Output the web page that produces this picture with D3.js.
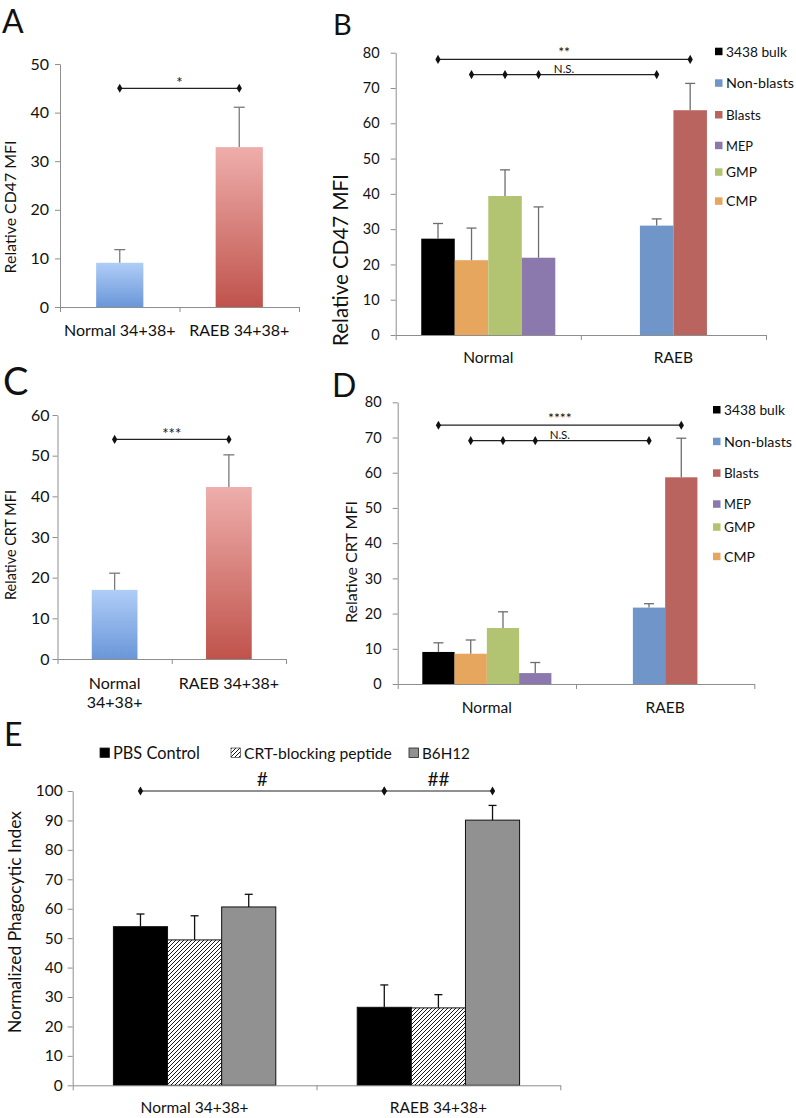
<!DOCTYPE html>
<html>
<head>
<meta charset="utf-8">
<script src="https://cdn.jsdelivr.net/npm/d3@7"></script>
<style>
  html, body { margin: 0; padding: 0; background: #fff; }
  svg { display: block; }
  text { font-family: Lato, "Open Sans", "DejaVu Sans", sans-serif; fill: #111; }
</style>
</head>
<body>
<script>
// ---------------- DATA ----------------
const simpleCats = ["Normal 34+38+", "RAEB 34+38+"];
const cd47Values = [9.1, 32.9];
const cd47Err = [2.7, 8.2];
const cd47Ticks = [0, 10, 20, 30, 40, 50];
const crtValues = [17.0, 42.3];
const crtErr = [4.1, 7.9];
const crtTicks = [0, 10, 20, 30, 40, 50, 60];
const crtCatLines = [["Normal", "34+38+"], ["RAEB 34+38+"]];

const subsetNames = ["3438 bulk", "Non-blasts", "Blasts", "MEP", "GMP", "CMP"];
const groupCats = ["Normal", "RAEB"];
const normalSubsets = ["3438 bulk", "CMP", "GMP", "MEP"];
const raebSubsets = ["Non-blasts", "Blasts"];
const cd47Normal = [27.3, 21.2, 39.4, 21.9];
const cd47NormalErr = [4.3, 9.1, 7.4, 14.4];
const cd47Raeb = [31.0, 63.7];
const cd47RaebErr = [1.9, 7.6];
const crtNormal = [9.1, 8.6, 15.9, 3.1];
const crtNormalErr = [2.6, 3.9, 4.6, 3.0];
const crtRaeb = [21.7, 58.7];
const crtRaebErr = [1.1, 11.1];
const groupTicks = [0, 10, 20, 30, 40, 50, 60, 70, 80];

const treatments = ["PBS Control", "CRT-blocking peptide", "B6H12"];
const phagoNormal = [53.9, 49.4, 60.6];
const phagoNormalErr = [4.3, 8.2, 4.3];
const phagoRaeb = [26.5, 26.3, 90.1];
const phagoRaebErr = [7.6, 4.5, 5.0];
const phagoTicks = [0, 10, 20, 30, 40, 50, 60, 70, 80, 90, 100];

// significance annotations (values in data units)
const sigA = [{ y: 45, label: "*", pts: [0, 1] }];
const sigC = [{ y: 54, label: "***", pts: [0, 1] }];
const sigB = [
  { y: 78.1, label: "**", pts: [["Normal", "3438 bulk"], ["RAEB", "Blasts"]] },
  { y: 73.8, label: "N.S.", pts: [["Normal", "CMP"], ["Normal", "GMP"], ["Normal", "MEP"], ["RAEB", "Non-blasts"]] }
];
const sigD = [
  { y: 73.5, label: "****", pts: [["Normal", "3438 bulk"], ["RAEB", "Blasts"]] },
  { y: 69.1, label: "N.S.", pts: [["Normal", "CMP"], ["Normal", "GMP"], ["Normal", "MEP"], ["RAEB", "Non-blasts"]] }
];
const sigE = [
  { y: 100, label: "#", pts: [[0, 0], [1, 0]] },
  { y: 100, label: "##", pts: [[1, 0], [1, 2]] }
];

// ---------------- STYLE ----------------
const subsetColors = {
  "3438 bulk": "#000000", "Non-blasts": "#7096c9", "Blasts": "#b9645e",
  "MEP": "#8b79ad", "GMP": "#b2c472", "CMP": "#e6a65d"
};
const gradStops = [["#b0cdf8", "#6a97d8"], ["#eeaeab", "#c0534c"]];
const axisColor = "#8e8e8e";
const FONT = "Lato, 'Open Sans', sans-serif";

const W = 796, H = 1118;
const svg = d3.select("body").append("svg").attr("width", W).attr("height", H);
svg.append("rect").attr("width", W).attr("height", H).attr("fill", "#fff");
const defs = svg.append("defs");

gradStops.forEach((s, i) => {
  const g = defs.append("linearGradient").attr("id", "grad" + i)
    .attr("x1", 0).attr("y1", 0).attr("x2", 0).attr("y2", 1);
  g.append("stop").attr("offset", "0%").attr("stop-color", s[0]);
  g.append("stop").attr("offset", "100%").attr("stop-color", s[1]);
});
const pat = defs.append("pattern").attr("id", "hatch").attr("patternUnits", "userSpaceOnUse")
  .attr("width", 4).attr("height", 4);
pat.append("rect").attr("width", 4).attr("height", 4).attr("fill", "#fff");
pat.append("path").attr("d", "M-1,1 L1,-1 M0,4 L4,0 M3,5 L5,3")
  .attr("stroke", "#000").attr("stroke-width", 0.9);

// scale a text's font size so that it spans the given length
function fit(sel, target) {
  const L = sel.node().getComputedTextLength();
  if (L > 0) sel.attr("font-size", parseFloat(sel.attr("font-size")) * target / L);
  return sel;
}

function styleAxis(g, fs) {
  g.select(".domain").attr("stroke", axisColor);
  g.selectAll(".tick line").attr("stroke", axisColor);
  g.selectAll(".tick text").attr("font-size", fs).attr("fill", "#111").style("font-family", FONT);
}

function drawAxes(cfg, x, y, nCats, ticks) {
  const xb = d3.scaleLinear().domain([0, nCats]).range([cfg.x0, cfg.x1]);
  const gx = svg.append("g").attr("transform", `translate(0,${y(0)})`)
    .call(d3.axisBottom(xb).tickValues(d3.range(nCats + 1)).tickFormat("").tickSize(5).tickSizeOuter(0));
  styleAxis(gx, 0);
  const gy = svg.append("g").attr("transform", `translate(${cfg.x0},0)`)
    .call(d3.axisLeft(y).tickValues(ticks).tickSize(5).tickSizeOuter(0).tickPadding(cfg.tickPad));
  styleAxis(gy, cfg.tickFs);
}

function errorBars(data, cx, y, color, cap) {
  data.forEach(d => {
    const xc = cx(d), top = y(d.v + d.e), base = y(d.v);
    svg.append("line").attr("x1", xc).attr("x2", xc).attr("y1", base).attr("y2", top)
      .attr("stroke", color).attr("stroke-width", 1.3);
    svg.append("line").attr("x1", xc - cap / 2).attr("x2", xc + cap / 2).attr("y1", top).attr("y2", top)
      .attr("stroke", color).attr("stroke-width", 1.3);
  });
}

function sigLines(sigs, xOf, y, fsFor, dy) {
  sigs.forEach(s => {
    const xs = s.pts.map(xOf);
    const yy = y(s.y);
    svg.append("line").attr("x1", d3.min(xs)).attr("x2", d3.max(xs)).attr("y1", yy).attr("y2", yy)
      .attr("stroke", "#222").attr("stroke-width", 1.2);
    xs.forEach(xv => {
      svg.append("path").attr("d", d3.symbol(d3.symbolDiamond, 24)())
        .attr("transform", `translate(${xv},${yy})`).attr("fill", "#111");
    });
    svg.append("text").attr("x", (d3.min(xs) + d3.max(xs)) / 2).attr("y", yy - dy)
      .attr("text-anchor", "middle").attr("font-size", fsFor(s.label)).text(s.label);
  });
}

function panelLetter(t, x, y, fs) {
  svg.append("text").attr("x", x).attr("y", y).attr("font-size", fs).text(t);
}

function yLabel(t, x, y, fs, len) {
  const s = svg.append("text").attr("transform", `translate(${x},${y}) rotate(-90)`)
    .attr("text-anchor", "middle").attr("font-size", fs).text(t);
  fit(s, len);
}

// ---------------- SIMPLE PANELS (A, C) ----------------
function drawSimple(cfg) {
  const x = d3.scaleBand().domain(simpleCats).range([cfg.x0, cfg.x1]);
  const y = d3.scaleLinear().domain([0, cfg.ticks[cfg.ticks.length - 1]]).range([cfg.y0, cfg.yTop]);
  const bw = x.bandwidth() * cfg.barFrac;
  const data = simpleCats.map((c, i) => ({ c, v: cfg.values[i], e: cfg.errs[i], i }));
  svg.selectAll(null).data(data).enter().append("rect")
    .attr("x", d => x(d.c) + (x.bandwidth() - bw) / 2).attr("width", bw)
    .attr("y", d => y(d.v)).attr("height", d => y(0) - y(d.v))
    .attr("fill", d => `url(#grad${d.i})`);
  errorBars(data, d => x(d.c) + x.bandwidth() / 2, y, "#7a7a7a", 11);
  drawAxes(cfg, x, y, simpleCats.length, cfg.ticks);
  simpleCats.forEach((c, i) => {
    cfg.catLines[i].forEach((line, j) => {
      svg.append("text").attr("x", x(c) + x.bandwidth() / 2).attr("y", cfg.catY + j * cfg.lineH)
        .attr("text-anchor", "middle").attr("font-size", cfg.catFs).text(line);
    });
  });
  sigLines(cfg.sigs, p => x(simpleCats[p]) + x.bandwidth() / 2, y, () => 15, 0);
  yLabel(cfg.ylabel, cfg.ylx, cfg.yly, 15, cfg.ylLen);
  panelLetter(cfg.letter, cfg.lx, cfg.ly, cfg.lfs);
}

drawSimple({
  x0: 60, x1: 299, y0: 307, yTop: 64, ticks: cd47Ticks, values: cd47Values, errs: cd47Err,
  barFrac: 0.395, tickPad: 6, tickFs: 16, catFs: 16, catY: 336, lineH: 18,
  catLines: simpleCats.map(c => [c]), sigs: sigA,
  ylabel: "Relative CD47 MFI", ylx: 16, yly: 207, ylLen: 133,
  letter: "A", lx: 2, ly: 33, lfs: 32
});
drawSimple({
  x0: 57.5, x1: 286, y0: 659, yTop: 415, ticks: crtTicks, values: crtValues, errs: crtErr,
  barFrac: 0.40, tickPad: 3, tickFs: 16, catFs: 16, catY: 689, lineH: 19,
  catLines: crtCatLines, sigs: sigC,
  ylabel: "Relative CRT MFI", ylx: 16, yly: 545, ylLen: 110,
  letter: "C", lx: 3, ly: 395, lfs: 38
});

// ---------------- GROUPED PANELS (B, D) ----------------
const legendLens = [61, 68, 35, 27, 31, 31];
function drawGrouped(cfg) {
  const x = d3.scaleBand().domain(groupCats).range([cfg.x0, cfg.x1]);
  const y = d3.scaleLinear().domain([0, groupTicks[groupTicks.length - 1]]).range([cfg.y0, cfg.yTop]);
  const bw = x.bandwidth() * 0.181;
  const groups = [
    { cat: "Normal", subs: normalSubsets, vals: cfg.normal, errs: cfg.normalErr },
    { cat: "RAEB", subs: raebSubsets, vals: cfg.raeb, errs: cfg.raebErr }
  ];
  const inner = {};
  const data = [];
  groups.forEach(g => {
    const c = x(g.cat) + x.bandwidth() / 2;
    inner[g.cat] = d3.scaleBand().domain(g.subs).range([c - g.subs.length * bw / 2, c + g.subs.length * bw / 2]);
    g.subs.forEach((s, i) => data.push({ g: g.cat, s, v: g.vals[i], e: g.errs[i] }));
  });
  const cx = d => inner[d.g](d.s) + inner[d.g].bandwidth() / 2;
  svg.selectAll(null).data(data).enter().append("rect")
    .attr("x", d => inner[d.g](d.s)).attr("width", d => inner[d.g].bandwidth())
    .attr("y", d => y(d.v)).attr("height", d => y(0) - y(d.v))
    .attr("fill", d => subsetColors[d.s]);
  errorBars(data, cx, y, "#6e6e6e", 10);
  drawAxes(cfg, x, y, groupCats.length, groupTicks);
  groupCats.forEach(c => {
    svg.append("text").attr("x", x(c) + x.bandwidth() / 2).attr("y", cfg.catY)
      .attr("text-anchor", "middle").attr("font-size", 15.5).text(c);
  });
  sigLines(cfg.sigs, p => cx({ g: p[0], s: p[1] }), y, l => l === "N.S." ? 11.5 : 14, 2);
  subsetNames.forEach((n, i) => {
    const yy = cfg.legY[i];
    svg.append("rect").attr("x", cfg.legX).attr("y", yy - 4).attr("width", 7.5).attr("height", 7.5)
      .attr("fill", subsetColors[n]);
    const t = svg.append("text").attr("x", cfg.legX + 11).attr("y", yy + 5).attr("font-size", 14).text(n);
    fit(t, legendLens[i]);
  });
  yLabel(cfg.ylabel, cfg.ylx, cfg.yly, 17, cfg.ylLen);
  panelLetter(cfg.letter, cfg.lx, cfg.ly, cfg.lfs);
}

drawGrouped({
  x0: 395.7, x1: 766, y0: 335, yTop: 52.7, tickPad: 11, tickFs: 14.5,
  normal: cd47Normal, normalErr: cd47NormalErr, raeb: cd47Raeb, raebErr: cd47RaebErr,
  catY: 363, sigs: sigB, legX: 715, legY: [51.7, 83.3, 115, 145.7, 172.3, 201.3],
  ylabel: "Relative CD47 MFI", ylx: 348, yly: 260, ylLen: 172,
  letter: "B", lx: 333, ly: 35, lfs: 29
});
drawGrouped({
  x0: 397.7, x1: 754.3, y0: 684, yTop: 402.3, tickPad: 11, tickFs: 14.5,
  normal: crtNormal, normalErr: crtNormalErr, raeb: crtRaeb, raebErr: crtRaebErr,
  catY: 713, sigs: sigD, legX: 713, legY: [410, 441.7, 473.3, 504.3, 527.3, 556.7],
  ylabel: "Relative CRT MFI", ylx: 357, yly: 562, ylLen: 122,
  letter: "D", lx: 332, ly: 397, lfs: 32
});

// ---------------- PANEL E ----------------
(function drawE() {
  const cfg = { x0: 72.7, x1: 560.3, y0: 1085.3, yTop: 791, tickPad: 5, tickFs: 15.5 };
  const x = d3.scaleBand().domain(simpleCats).range([cfg.x0, cfg.x1]);
  const y = d3.scaleLinear().domain([0, 100]).range([cfg.y0, cfg.yTop]);
  const bw = x.bandwidth() * 0.222;
  const vals = [phagoNormal, phagoRaeb], errs = [phagoNormalErr, phagoRaebErr];
  const fills = ["#000", "url(#hatch)", "#919191"];
  const data = [];
  simpleCats.forEach((c, gi) => treatments.forEach((t, ti) =>
    data.push({ gi, ti, c, t, v: vals[gi][ti], e: errs[gi][ti] })));
  const inner = d3.scaleBand().domain(treatments).range([0, bw * treatments.length]);
  const left = d => x(d.c) + (x.bandwidth() - bw * treatments.length) / 2 + inner(d.t);
  const cx = d => left(d) + bw / 2;
  svg.selectAll(null).data(data).enter().append("rect")
    .attr("x", left).attr("width", bw)
    .attr("y", d => y(d.v)).attr("height", d => y(0) - y(d.v))
    .attr("fill", d => fills[d.ti]).attr("stroke", "#111").attr("stroke-width", 1);
  errorBars(data, cx, y, "#111", 8);
  drawAxes(cfg, x, y, simpleCats.length, phagoTicks);
  simpleCats.forEach(c => {
    svg.append("text").attr("x", x(c) + x.bandwidth() / 2).attr("y", 1113)
      .attr("text-anchor", "middle").attr("font-size", 15.5).text(c);
  });
  sigLines(sigE, p => cx({ c: simpleCats[p[0]], t: treatments[p[1]] }), y, () => 19, 5);
  const legX = [100, 231, 409];
  const legLen = [87, 148, 48];
  treatments.forEach((t, i) => {
    svg.append("rect").attr("x", legX[i]).attr("y", 748).attr("width", 9.5).attr("height", 9.5)
      .attr("fill", fills[i]).attr("stroke", i === 1 ? "#555" : "#222").attr("stroke-width", 0.8);
    const tx = svg.append("text").attr("x", legX[i] + 13).attr("y", 758.5).attr("font-size", 16.5).text(t);
    fit(tx, legLen[i]);
  });
  yLabel("Normalized Phagocytic Index", 21, 922, 15, 222);
  panelLetter("E", 4, 746, 32);
})();
</script>
</body>
</html>
